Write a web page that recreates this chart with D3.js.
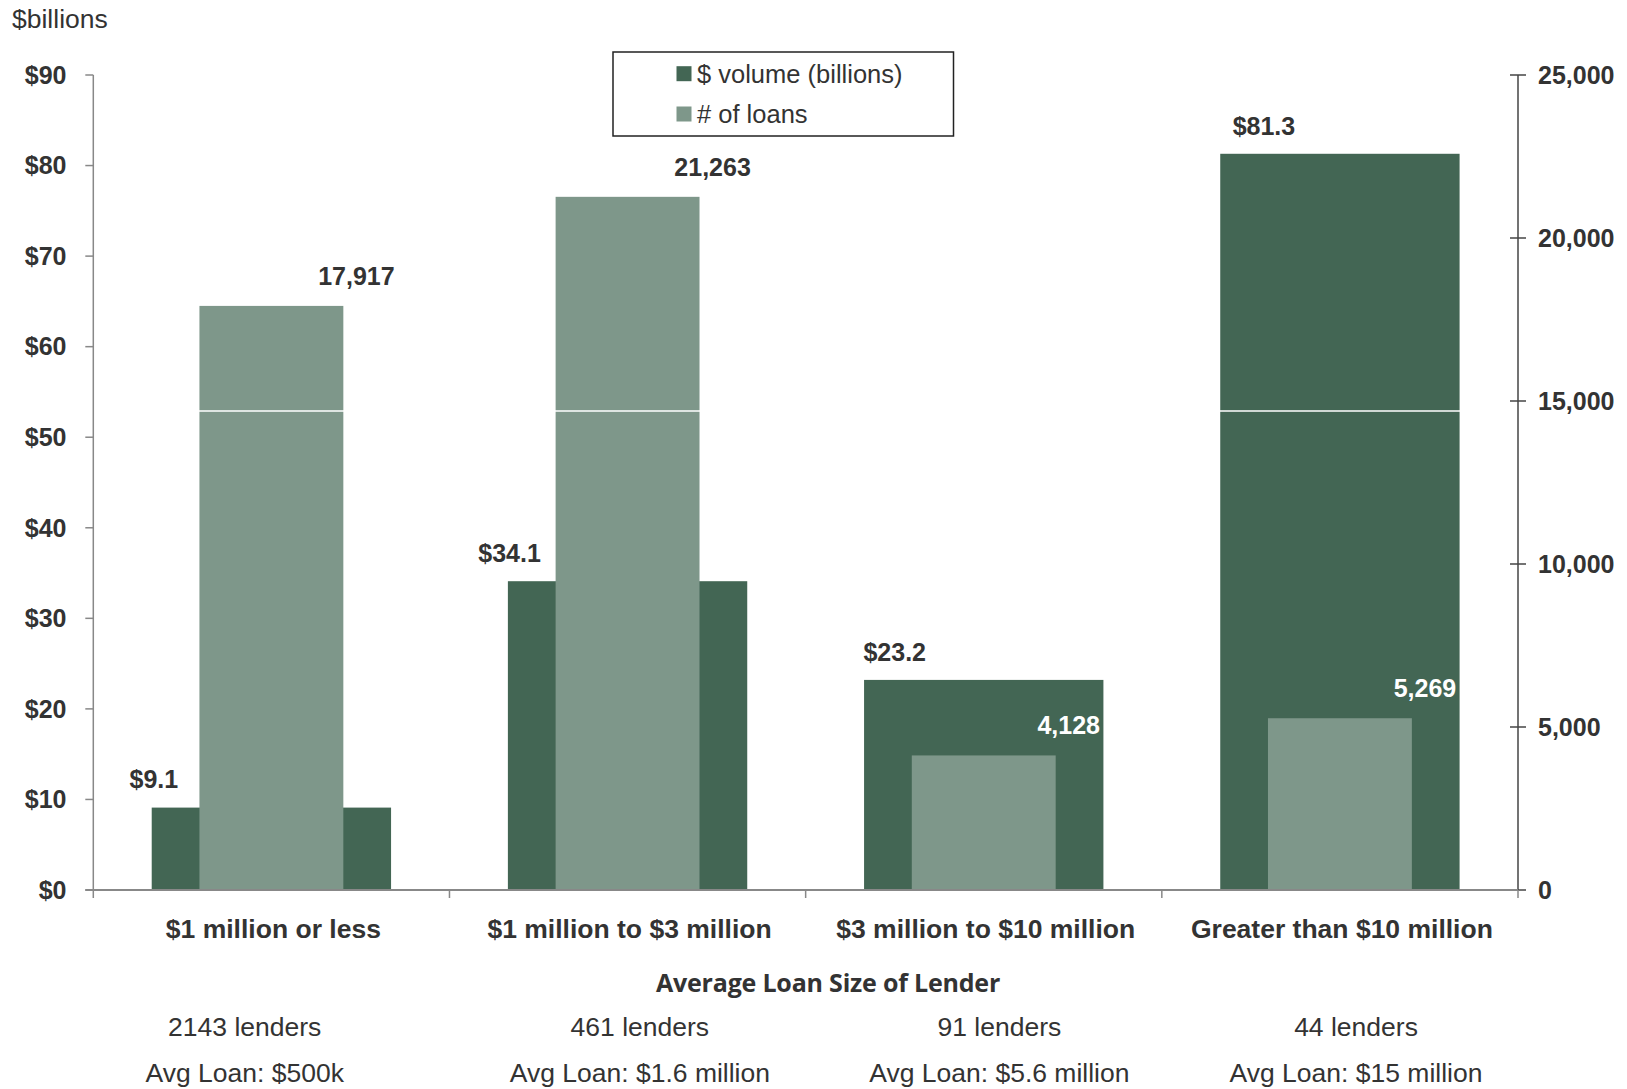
<!DOCTYPE html>
<html><head><meta charset="utf-8">
<script src="https://cdn.jsdelivr.net/npm/d3@7"></script>
<style>body{margin:0;background:#fff;} svg{display:block;font-family:"Liberation Sans",Arial,sans-serif;}</style>
</head><body><svg id="c" width="1627" height="1089"></svg>
<script>
const categories = ["$1 million or less","$1 million to $3 million","$3 million to $10 million","Greater than $10 million"];
const volume = [9.1, 34.1, 23.2, 81.3];
const loans = [17917, 21263, 4128, 5269];
const lenderCounts = ["2143 lenders","461 lenders","91 lenders","44 lenders"];
const avgLoans = ["Avg Loan: $500k","Avg Loan: $1.6 million","Avg Loan: $5.6 million","Avg Loan: $15 million"];
const leftTicks = [0,10,20,30,40,50,60,70,80,90];
const rightTicks = [0,5000,10000,15000,20000,25000];
const seriesNames = ["$ volume (billions)","# of loans"];

const dark = "#436654", light = "#7e978a", txt = "#333333";
const svg = d3.select("#c");
const L = 93.3, R = 1518, T = 75, B = 890;

const x = d3.scaleBand().domain(categories).range([L, R]).padding(0);
const yL = d3.scaleLinear().domain([0, 90]).range([B, T]);
const yR = d3.scaleLinear().domain([0, 25000]).range([B, T]);
const bw = x.bandwidth();
const darkW = bw * 0.672, lightW = bw * 0.404;

// label nudges (manual placement in original)
const volLabelDx = [-117.5, -118, -89, -76];
const loanLabelDx = 85;
const footDx = [-26.7, 12.3, 15.6, 16.1];

// bars
svg.selectAll("rect.vol").data(volume).join("rect")
  .attr("x", (d,i) => x(categories[i]) + (bw - darkW)/2)
  .attr("y", d => yL(d)).attr("width", darkW).attr("height", d => B - yL(d))
  .attr("fill", dark);
svg.selectAll("rect.loan").data(loans).join("rect")
  .attr("x", (d,i) => x(categories[i]) + (bw - lightW)/2)
  .attr("y", d => yR(d)).attr("width", lightW).attr("height", d => B - yR(d))
  .attr("fill", light);

// faint white artifact line across bars
svg.append("line").attr("x1", L+1).attr("x2", R-1)
  .attr("y1", yL(52.9)).attr("y2", yL(52.9))
  .attr("stroke", "#fff").attr("stroke-width", 1.5);

// left axis
const gL = svg.append("g");
gL.append("line").attr("x1", L).attr("x2", L).attr("y1", T).attr("y2", B).attr("stroke", "#888").attr("stroke-width", 1.5);
gL.selectAll("line.t").data(leftTicks).join("line")
  .attr("x1", L-8).attr("x2", L).attr("y1", d => yL(d)).attr("y2", d => yL(d))
  .attr("stroke", "#888").attr("stroke-width", 1.5);
gL.selectAll("text").data(leftTicks).join("text")
  .attr("x", 66.5).attr("y", d => yL(d)).attr("dy", "0.35em")
  .attr("text-anchor", "end").attr("font-size", 25).attr("font-weight", "bold").attr("fill", txt)
  .text(d => "$" + d);

// right axis
const gR = svg.append("g");
gR.append("line").attr("x1", R).attr("x2", R).attr("y1", T).attr("y2", B).attr("stroke", "#444").attr("stroke-width", 1.5);
gR.selectAll("line.t").data(rightTicks).join("line")
  .attr("x1", R-8).attr("x2", R+8).attr("y1", d => yR(d)).attr("y2", d => yR(d))
  .attr("stroke", "#444").attr("stroke-width", 1.5);
gR.selectAll("text").data(rightTicks).join("text")
  .attr("x", 1538).attr("y", d => yR(d)).attr("dy", "0.35em")
  .attr("text-anchor", "start").attr("font-size", 25).attr("font-weight", "bold").attr("fill", txt)
  .text(d => d3.format(",")(d));

// bottom axis
const gB = svg.append("g");
gB.append("line").attr("x1", L-8).attr("x2", R).attr("y1", B).attr("y2", B).attr("stroke", "#888").attr("stroke-width", 2);
const bounds = categories.map(c => x(c)).concat([R]);
gB.selectAll("line.t").data(bounds).join("line")
  .attr("x1", d => d).attr("x2", d => d).attr("y1", B).attr("y2", B+8)
  .attr("stroke", "#888").attr("stroke-width", 1.5);
gB.selectAll("text").data(categories).join("text")
  .attr("x", d => x(d) + bw/2 + 2).attr("y", 928.6).attr("dy", "0.35em")
  .attr("text-anchor", "middle").attr("font-size", 26.5).attr("font-weight", "bold").attr("fill", txt)
  .text(d => d);

// value labels
svg.selectAll("text.vl").data(volume).join("text")
  .attr("x", (d,i) => x(categories[i]) + bw/2 + volLabelDx[i])
  .attr("y", d => yL(d) - 28).attr("dy", "0.35em")
  .attr("text-anchor", "middle").attr("font-size", 25).attr("font-weight", "bold").attr("fill", txt)
  .text(d => "$" + d3.format(".1f")(d));
svg.selectAll("text.ll").data(loans).join("text")
  .attr("x", (d,i) => x(categories[i]) + bw/2 + loanLabelDx)
  .attr("y", d => yR(d) - 30).attr("dy", "0.35em")
  .attr("text-anchor", "middle").attr("font-size", 25).attr("font-weight", "bold")
  .attr("fill", (d,i) => volume[i]/90 > d/25000 ? "#ffffff" : txt)
  .text(d => d3.format(",")(d));

// titles
svg.append("text").attr("x", 12).attr("y", 18.7).attr("dy", "0.35em")
  .attr("font-size", 26.5).attr("fill", txt).text("$billions");
svg.append("text").attr("x", 828).attr("y", 983.6).attr("dy", "0.35em")
  .attr("text-anchor", "middle").attr("font-size", 25).attr("font-weight", "bold").attr("fill", txt)
  .attr("font-family", "'Open Sans', sans-serif").attr("letter-spacing", -0.2)
  .text("Average Loan Size of Lender");

// footers
svg.selectAll("text.f1").data(lenderCounts).join("text")
  .attr("x", (d,i) => x(categories[i]) + bw/2 + footDx[i]).attr("y", 1027).attr("dy", "0.35em")
  .attr("text-anchor", "middle").attr("font-size", 26.5).attr("fill", txt).text(d => d);
svg.selectAll("text.f2").data(avgLoans).join("text")
  .attr("x", (d,i) => x(categories[i]) + bw/2 + footDx[i]).attr("y", 1073).attr("dy", "0.35em")
  .attr("text-anchor", "middle").attr("font-size", 26.5).attr("fill", txt).text(d => d);

// legend
const lg = svg.append("g");
lg.append("rect").attr("x", 613).attr("y", 52).attr("width", 340.5).attr("height", 84)
  .attr("fill", "#fff").attr("stroke", "#222").attr("stroke-width", 1.5);
const legY = [73.7, 114];
lg.selectAll("rect.sw").data(seriesNames).join("rect")
  .attr("x", 676.5).attr("y", (d,i) => legY[i] - 7.5).attr("width", 15).attr("height", 15)
  .attr("fill", (d,i) => i === 0 ? dark : light);
lg.selectAll("text").data(seriesNames).join("text")
  .attr("x", 697).attr("y", (d,i) => legY[i]).attr("dy", "0.35em")
  .attr("font-size", 25.5).attr("fill", txt).text(d => d);
</script></body></html>
